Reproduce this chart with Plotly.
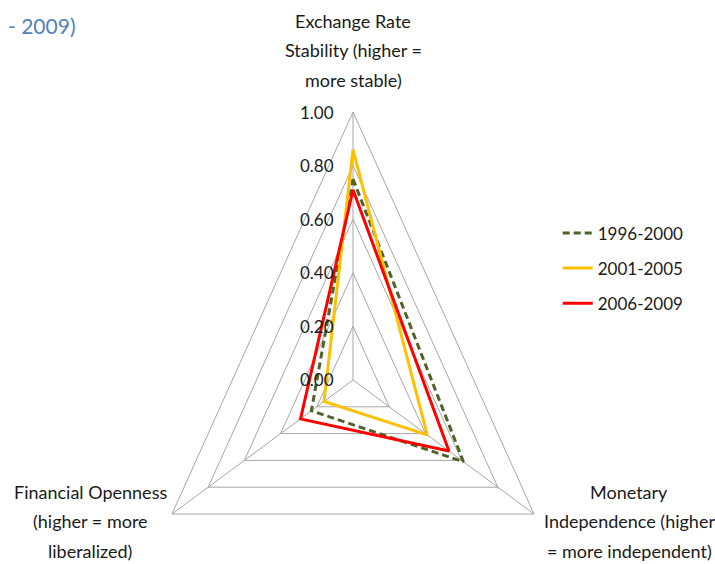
import numpy as np
import plotly.graph_objects as go

# Radar axes (clockwise from the top) and their values per period
axes_labels = [
    ["Exchange Rate", "Stability (higher =", "more stable)"],
    ["Monetary", "Independence (higher", "= more independent)"],
    ["Financial Openness", "(higher = more", "liberalized)"],
]
periods = ["1996-2000", "2001-2005", "2006-2009"]
vals_1996_2000 = [0.75, 0.61, 0.23]
vals_2001_2005 = [0.86, 0.41, 0.16]
vals_2006_2009 = [0.71, 0.53, 0.29]
tick_vals = [0.0, 0.2, 0.4, 0.6, 0.8, 1.0]
tick_text = ["0.00", "0.20", "0.40", "0.60", "0.80", "1.00"]

series_vals = [vals_1996_2000, vals_2001_2005, vals_2006_2009]
series_colors = ["#4F6228", "#FFC000", "#FF0000"]
series_dash = ["7px,4px", "solid", "solid"]

FONT = "Lato, Roboto, sans-serif"
GRID = "#A6A6A6"
W, H = 715, 564

# spoke directions: top, lower right, lower left
theta = np.deg2rad([90.0, -30.0, 210.0])


def project(values):
    """Map radial values on each spoke to plane coordinates, closing the loop."""
    v = np.asarray(values, dtype=float)
    x = v * np.cos(theta)
    y = v * np.sin(theta)
    return np.append(x, x[0]), np.append(y, y[0])


fig = go.Figure()

# polygon grid at each tick level
for t in tick_vals[1:]:
    gx, gy = project([t, t, t])
    fig.add_trace(go.Scatter(x=gx, y=gy, mode="lines",
                             line=dict(color=GRID, width=1),
                             hoverinfo="skip", showlegend=False))

# spokes from the centre to the outer ring
ox, oy = project([tick_vals[-1]] * 3)
for i in range(3):
    fig.add_trace(go.Scatter(x=[0, ox[i]], y=[0, oy[i]], mode="lines",
                             line=dict(color=GRID, width=1),
                             hoverinfo="skip", showlegend=False))

# data series
for name, vals, color, dash in zip(periods, series_vals, series_colors, series_dash):
    sx, sy = project(vals)
    fig.add_trace(go.Scatter(x=sx, y=sy, mode="lines", name=name,
                             legendgroup=name,
                             line=dict(color=color, width=3, dash=dash)))

# radial tick labels along the top spoke
for t, lab in zip(tick_vals, tick_text):
    fig.add_annotation(x=0, y=t, xref="x", yref="y", text=lab,
                       showarrow=False, xanchor="right", yanchor="middle",
                       xshift=-17, font=dict(family=FONT, size=17, color="#1A1A1A"))

# spoke titles, one annotation per line for wider line spacing
label_centers = [(353, 50), (629, 521), (90, 521)]   # block centres in px
line_step = 29.5
for lines, (cx, cy) in zip(axes_labels, label_centers):
    for k, txt in enumerate(lines):
        ly = cy + (k - (len(lines) - 1) / 2) * line_step
        fig.add_annotation(x=cx / W, y=1 - ly / H, xref="paper", yref="paper",
                           text=txt, showarrow=False,
                           xanchor="center", yanchor="middle",
                           font=dict(family=FONT, size=18, color="#1A1A1A"))

# tail of the chart title
fig.add_annotation(x=0.008, y=0.955, xref="paper", yref="paper", text="- 2009)",
                   showarrow=False, xanchor="left", yanchor="middle",
                   font=dict(family=FONT, size=21, color="#4F81BD"))

fig.update_layout(
    width=W, height=H,
    margin=dict(l=0, r=0, t=0, b=0),
    paper_bgcolor="white", plot_bgcolor="white",
    showlegend=True,
    legend=dict(x=0.78, y=0.618, xanchor="left", yanchor="top",
                traceorder="grouped", tracegroupgap=10,
                itemwidth=30, bgcolor="rgba(0,0,0,0)",
                font=dict(family=FONT, size=17, color="#1A1A1A")),
    xaxis=dict(range=[-1.689, 1.732], visible=False, fixedrange=True),
    yaxis=dict(range=[-0.6866, 1.4179], visible=False, fixedrange=True),
)

fig.write_html("out.html")
